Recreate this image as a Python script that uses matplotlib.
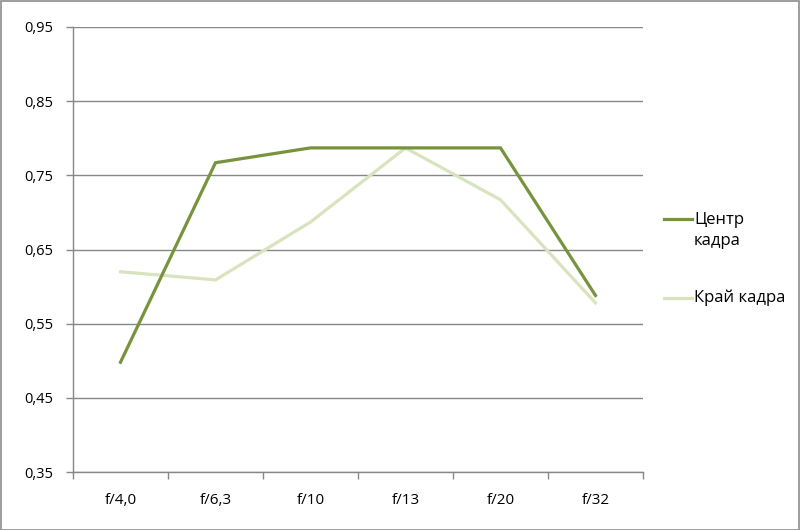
#imports
import numpy as np
import matplotlib
matplotlib.use('Agg')
import matplotlib.pyplot as plt
from matplotlib.lines import Line2D
from matplotlib.patches import Rectangle

#data
apertures = ['f/4,0', 'f/6,3', 'f/10', 'f/13', 'f/20', 'f/32']
center = [0.498, 0.767, 0.787, 0.787, 0.787, 0.588]
edge = [0.620, 0.609, 0.687, 0.787, 0.717, 0.578]
series_names = ['Центр\nкадра', 'Край кадра']
y_ticks = [0.35, 0.45, 0.55, 0.65, 0.75, 0.85, 0.95]

plt.rcParams['font.family'] = ['Open Sans', 'DejaVu Sans']
grid_col = '#878787'
dark = '#77933C'
light = '#D7E4BD'

fig = plt.figure(figsize=(8, 5.3), dpi=100)
ax = fig.add_axes([73/800, 58/530, 570/800, 445/530])

idx = np.arange(len(apertures))
ax.plot(idx, center, color=dark, lw=2.3, solid_joinstyle='miter', zorder=3)
ax.plot(idx, edge, color=light, lw=2.3, solid_joinstyle='miter', zorder=2)

ax.set_xlim(-0.5, len(apertures) - 0.5)
ax.set_ylim(0.35, 0.95)
ax.set_yticks(y_ticks)
ax.set_yticklabels([('%.2f' % v).replace('.', ',') for v in y_ticks], fontsize=10.5)
ax.set_xticks(idx)
ax.set_xticklabels(apertures, fontsize=11)
ax.set_xticks(np.arange(-0.5, len(apertures)), minor=True)
ax.tick_params(axis='x', which='major', length=0, pad=15)
ax.tick_params(axis='x', which='minor', length=5, color=grid_col, width=1)
ax.tick_params(axis='y', length=5, color=grid_col, width=1, pad=9)
ax.yaxis.grid(True, color=grid_col, lw=1)
ax.set_axisbelow(True)
for s in ['top', 'right']:
    ax.spines[s].set_visible(False)
for s in ['left', 'bottom']:
    ax.spines[s].set_color(grid_col)
    ax.spines[s].set_linewidth(1)

#legend drawn by hand so the handle sits on the first text line
line_px = 23
for name, col, ypix in zip(series_names, [dark, light], [219, 298]):
    nlines = name.count('\n') + 1
    yf = 1 - ypix/530
    ytext = 1 - (ypix + (nlines - 1) * line_px / 2) / 530
    fig.add_artist(Line2D([664/800, 692/800], [yf, yf], color=col, lw=2.3))
    fig.text(694/800, ytext, name, fontsize=12, va='center', ha='left',
             linespacing=1.38)

#outer frame
fig.add_artist(Rectangle((0.5/800, 0.5/530), 1 - 1.5/800, 1 - 1.5/530, transform=fig.transFigure,
                         fill=False, edgecolor='#8c8c8c', lw=1.2))

fig.savefig('out.png', dpi=100)
